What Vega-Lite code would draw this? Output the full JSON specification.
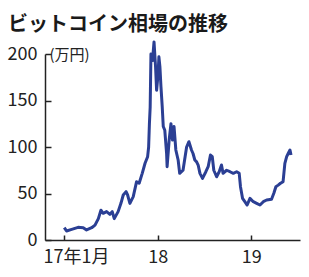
{
  "$schema": "https://vega.github.io/schema/vega-lite/v6.json",
  "width": 255,
  "height": 186,
  "autosize": {"type": "none"},
  "padding": {"left": 45, "top": 54, "right": 9, "bottom": 37},
  "background": "white",
  "title": {
    "text": "ビットコイン相場の推移",
    "anchor": "start",
    "frame": "group",
    "dx": -37,
    "offset": 5,
    "font": "Noto Sans CJK JP",
    "fontSize": 20,
    "fontWeight": "bold",
    "color": "#1a1a1a"
  },
  "config": {
    "view": {"stroke": null},
    "axis": {
      "grid": false,
      "domainColor": "#222",
      "domainWidth": 1.5,
      "tickColor": "#222",
      "tickWidth": 1.5,
      "labelFont": "Noto Sans CJK JP",
      "labelFontSize": 18,
      "labelColor": "#222",
      "titleFont": "Noto Sans CJK JP"
    }
  },
  "data": {
    "values": [
      {"date": "2017-01-02", "value": 13.2},
      {"date": "2017-01-11", "value": 9.7},
      {"date": "2017-01-31", "value": 11.5},
      {"date": "2017-02-25", "value": 13.6},
      {"date": "2017-03-17", "value": 13.2},
      {"date": "2017-03-30", "value": 10.8},
      {"date": "2017-04-19", "value": 13.2},
      {"date": "2017-05-02", "value": 16},
      {"date": "2017-05-15", "value": 23},
      {"date": "2017-05-25", "value": 32},
      {"date": "2017-06-03", "value": 28.7},
      {"date": "2017-06-16", "value": 30.5},
      {"date": "2017-06-29", "value": 27.6},
      {"date": "2017-07-08", "value": 30.5},
      {"date": "2017-07-16", "value": 23},
      {"date": "2017-07-31", "value": 30.5},
      {"date": "2017-08-11", "value": 39.4},
      {"date": "2017-08-20", "value": 48.4},
      {"date": "2017-08-31", "value": 52},
      {"date": "2017-09-06", "value": 48.4},
      {"date": "2017-09-15", "value": 39.4},
      {"date": "2017-09-28", "value": 46.6},
      {"date": "2017-10-11", "value": 62.7},
      {"date": "2017-10-21", "value": 61},
      {"date": "2017-11-02", "value": 71.7},
      {"date": "2017-11-13", "value": 82.5},
      {"date": "2017-11-23", "value": 89.6},
      {"date": "2017-11-27", "value": 100},
      {"date": "2017-11-30", "value": 125},
      {"date": "2017-12-03", "value": 143},
      {"date": "2017-12-06", "value": 200},
      {"date": "2017-12-12", "value": 193},
      {"date": "2017-12-18", "value": 213},
      {"date": "2017-12-24", "value": 186},
      {"date": "2017-12-28", "value": 161},
      {"date": "2018-01-03", "value": 179},
      {"date": "2018-01-06", "value": 197},
      {"date": "2018-01-10", "value": 186},
      {"date": "2018-01-14", "value": 165},
      {"date": "2018-01-19", "value": 143},
      {"date": "2018-01-23", "value": 122},
      {"date": "2018-01-29", "value": 118},
      {"date": "2018-02-05", "value": 93},
      {"date": "2018-02-07", "value": 78.8},
      {"date": "2018-02-15", "value": 107.5},
      {"date": "2018-02-22", "value": 125},
      {"date": "2018-02-28", "value": 107.5},
      {"date": "2018-03-06", "value": 122},
      {"date": "2018-03-13", "value": 96.8},
      {"date": "2018-03-22", "value": 86},
      {"date": "2018-03-28", "value": 71.7},
      {"date": "2018-04-10", "value": 75},
      {"date": "2018-04-24", "value": 100},
      {"date": "2018-05-03", "value": 105.7},
      {"date": "2018-05-13", "value": 96.8},
      {"date": "2018-05-19", "value": 93},
      {"date": "2018-05-26", "value": 86},
      {"date": "2018-06-02", "value": 84},
      {"date": "2018-06-08", "value": 80.6},
      {"date": "2018-06-15", "value": 71.7},
      {"date": "2018-06-25", "value": 66.3},
      {"date": "2018-07-08", "value": 73.4},
      {"date": "2018-07-17", "value": 78.8},
      {"date": "2018-07-26", "value": 91.4},
      {"date": "2018-08-02", "value": 89.6},
      {"date": "2018-08-08", "value": 75},
      {"date": "2018-08-19", "value": 68},
      {"date": "2018-08-29", "value": 73.4},
      {"date": "2018-09-07", "value": 80.6},
      {"date": "2018-09-13", "value": 71.7},
      {"date": "2018-09-27", "value": 75},
      {"date": "2018-10-10", "value": 73.4},
      {"date": "2018-10-23", "value": 71.7},
      {"date": "2018-11-05", "value": 73.4},
      {"date": "2018-11-15", "value": 71.7},
      {"date": "2018-11-20", "value": 57.3},
      {"date": "2018-11-28", "value": 44.8},
      {"date": "2018-12-07", "value": 41.2},
      {"date": "2018-12-16", "value": 37.6},
      {"date": "2018-12-27", "value": 44.8},
      {"date": "2019-01-09", "value": 41.2},
      {"date": "2019-01-22", "value": 39.4},
      {"date": "2019-02-04", "value": 37.6},
      {"date": "2019-02-17", "value": 41.2},
      {"date": "2019-03-02", "value": 43},
      {"date": "2019-03-21", "value": 43.8},
      {"date": "2019-03-30", "value": 50.2},
      {"date": "2019-04-07", "value": 57.3},
      {"date": "2019-04-16", "value": 59},
      {"date": "2019-04-25", "value": 61},
      {"date": "2019-05-05", "value": 62.7},
      {"date": "2019-05-12", "value": 82.5},
      {"date": "2019-05-19", "value": 89.6},
      {"date": "2019-05-25", "value": 93},
      {"date": "2019-06-01", "value": 96.8},
      {"date": "2019-06-05", "value": 91.4}
    ]
  },
  "mark": {"type": "line", "color": "#2b3f94", "strokeWidth": 3, "clip": false, "strokeJoin": "round"},
  "encoding": {
    "x": {
      "field": "date",
      "type": "temporal",
      "scale": {"domain": ["2016-10-19", "2019-07-10"], "nice": false},
      "axis": {
        "title": null,
        "values": ["2017-01-01", "2018-01-01", "2019-01-01"],
        "labelExpr": "year(datum.value) == 2017 ? '17年1月' : timeFormat(datum.value, '%y')",
        "tickSize": -5,
        "labelPadding": 13,
        "labelOffset": {"condition": {"test": "year(datum.value) == 2017", "value": 12}, "value": 0},
        "labelFlush": false
      }
    },
    "y": {
      "field": "value",
      "type": "quantitative",
      "scale": {"domain": [0, 200], "nice": false, "zero": true},
      "axis": {
        "values": [0, 50, 100, 150, 200],
        "title": "(万円)",
        "titleAngle": 0,
        "titleAlign": "left",
        "titleBaseline": "middle",
        "titleX": 4,
        "titleY": 0,
        "titleFontSize": 15,
        "titleFontWeight": "normal",
        "titleColor": "#222",
        "tickSize": -6,
        "labelPadding": 14,
        "labelFlush": false
      }
    }
  }
}
